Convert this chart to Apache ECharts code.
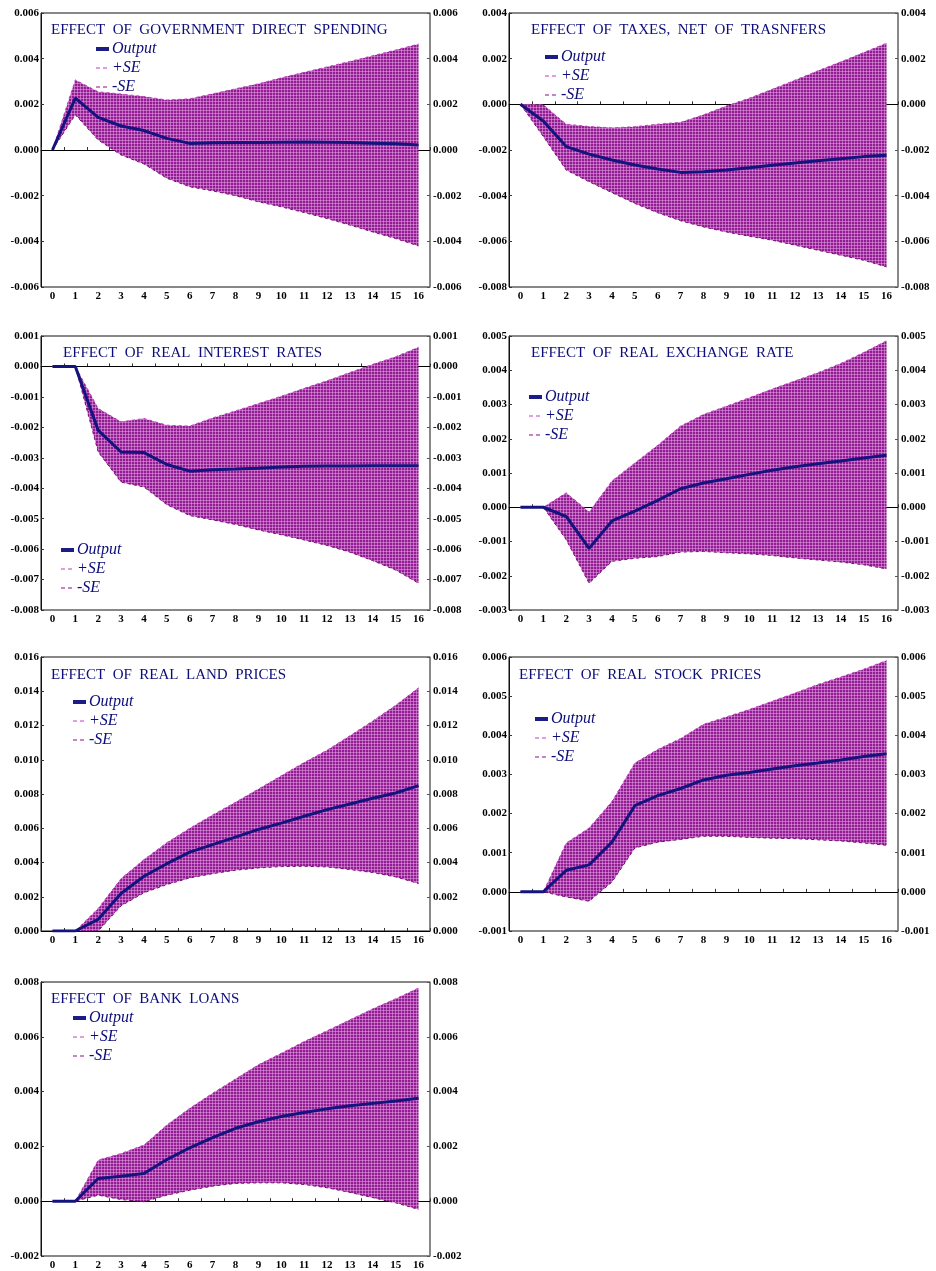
<!DOCTYPE html>
<html><head><meta charset="utf-8">
<script src="https://cdn.jsdelivr.net/npm/echarts@6/dist/echarts.min.js"></script>
<style>html,body{margin:0;padding:0;background:#fff}#c{width:936px;height:1271px}</style>
</head><body><div id="c"></div>
<script>
const periods = ['0','1','2','3','4','5','6','7','8','9','10','11','12','13','14','15','16'];

const titles = [
  'EFFECT  OF  GOVERNMENT  DIRECT  SPENDING',
  'EFFECT  OF  TAXES,  NET  OF  TRASNFERS',
  'EFFECT  OF  REAL  INTEREST  RATES',
  'EFFECT  OF  REAL  EXCHANGE  RATE',
  'EFFECT  OF  REAL  LAND  PRICES',
  'EFFECT  OF  REAL  STOCK  PRICES',
  'EFFECT  OF  BANK  LOANS'
];

// Government direct spending
const gdsOutput = [0, 0.00227, 0.00143, 0.00105, 0.00085, 0.00051, 0.00029, 0.00032, 0.00033, 0.00033, 0.00034, 0.00035, 0.00034, 0.00033, 0.00030, 0.00027, 0.00022];
const gdsUpper  = [0, 0.00307, 0.00255, 0.00245, 0.00234, 0.00219, 0.00224, 0.00246, 0.00268, 0.00290, 0.00316, 0.00340, 0.00364, 0.00388, 0.00413, 0.00438, 0.00464];
const gdsLower  = [0, 0.00154, 0.00044, -0.00022, -0.00061, -0.00124, -0.00161, -0.00179, -0.00200, -0.00227, -0.00249, -0.00274, -0.00300, -0.00329, -0.00359, -0.00388, -0.00420];
const gdsTicks  = [-0.006, -0.004, -0.002, 0.000, 0.002, 0.004, 0.006];

// Taxes, net of transfers
const taxOutput = [0, -0.00073, -0.00185, -0.00218, -0.00244, -0.00266, -0.00283, -0.00298, -0.00295, -0.00288, -0.00278, -0.00267, -0.00257, -0.00247, -0.00238, -0.00229, -0.00223];
const taxUpper  = [0, -0.00002, -0.00087, -0.00097, -0.00103, -0.00098, -0.00087, -0.00079, -0.00046, -0.00007, 0.00027, 0.00066, 0.00106, 0.00147, 0.00186, 0.00227, 0.00268];
const taxLower  = [0, -0.00141, -0.00288, -0.00339, -0.00387, -0.00434, -0.00475, -0.00510, -0.00537, -0.00559, -0.00578, -0.00595, -0.00617, -0.00639, -0.00661, -0.00683, -0.00712];
const taxTicks  = [-0.008, -0.006, -0.004, -0.002, 0.000, 0.002, 0.004];

// Real interest rates
const irOutput = [0, 0, -0.00210, -0.00281, -0.00283, -0.00322, -0.00344, -0.00339, -0.00337, -0.00334, -0.00330, -0.00328, -0.00327, -0.00327, -0.00326, -0.00326, -0.00326];
const irUpper  = [0, 0, -0.00138, -0.00182, -0.00171, -0.00193, -0.00196, -0.00169, -0.00146, -0.00122, -0.00098, -0.00072, -0.00047, -0.00020, 0.00007, 0.00032, 0.00063];
const irLower  = [0, 0, -0.00281, -0.00380, -0.00396, -0.00454, -0.00490, -0.00504, -0.00519, -0.00537, -0.00553, -0.00570, -0.00588, -0.00610, -0.00638, -0.00669, -0.00712];
const irTicks  = [-0.008, -0.007, -0.006, -0.005, -0.004, -0.003, -0.002, -0.001, 0.000, 0.001];

// Real exchange rate
const fxOutput = [0, 0, -0.00027, -0.00120, -0.00040, -0.00011, 0.00020, 0.00054, 0.00071, 0.00083, 0.00096, 0.00108, 0.00118, 0.00127, 0.00135, 0.00144, 0.00152];
const fxUpper  = [0, 0, 0.00042, -0.00014, 0.00077, 0.00129, 0.00181, 0.00237, 0.00271, 0.00295, 0.00320, 0.00345, 0.00369, 0.00393, 0.00420, 0.00452, 0.00486];
const fxLower  = [0, 0, -0.00095, -0.00222, -0.00158, -0.00149, -0.00144, -0.00131, -0.00129, -0.00133, -0.00136, -0.00141, -0.00148, -0.00154, -0.00160, -0.00168, -0.00180];
const fxTicks  = [-0.003, -0.002, -0.001, 0.000, 0.001, 0.002, 0.003, 0.004, 0.005];

// Real land prices
const landOutput = [0, 0, 0.00068, 0.00219, 0.00320, 0.00393, 0.00461, 0.00504, 0.00548, 0.00593, 0.00630, 0.00670, 0.00709, 0.00742, 0.00775, 0.00806, 0.00849];
const landUpper  = [0, 0, 0.00132, 0.00306, 0.00417, 0.00516, 0.00600, 0.00678, 0.00752, 0.00829, 0.00907, 0.00984, 0.01056, 0.01140, 0.01227, 0.01318, 0.01420];
const landLower  = [0, 0, 0, 0.00147, 0.00223, 0.00271, 0.00310, 0.00335, 0.00355, 0.00368, 0.00376, 0.00378, 0.00374, 0.00359, 0.00341, 0.00316, 0.00277];
const landTicks  = [0.000, 0.002, 0.004, 0.006, 0.008, 0.010, 0.012, 0.014, 0.016];

// Real stock prices
const stockOutput = [0, 0, 0.00055, 0.00069, 0.00127, 0.00220, 0.00246, 0.00264, 0.00286, 0.00298, 0.00305, 0.00314, 0.00322, 0.00329, 0.00337, 0.00346, 0.00353];
const stockUpper  = [0, 0, 0.00125, 0.00163, 0.00231, 0.00329, 0.00364, 0.00392, 0.00428, 0.00447, 0.00466, 0.00487, 0.00508, 0.00530, 0.00549, 0.00569, 0.00591];
const stockLower  = [0, 0, -0.00013, -0.00024, 0.00025, 0.00112, 0.00127, 0.00134, 0.00142, 0.00142, 0.00139, 0.00137, 0.00136, 0.00133, 0.00130, 0.00125, 0.00119];
const stockTicks  = [-0.001, 0.000, 0.001, 0.002, 0.003, 0.004, 0.005, 0.006];

// Bank loans
const loanOutput = [0, 0, 0.00083, 0.00091, 0.00101, 0.00152, 0.00195, 0.00232, 0.00266, 0.00290, 0.00309, 0.00324, 0.00337, 0.00348, 0.00357, 0.00366, 0.00376];
const loanUpper  = [0, 0, 0.00150, 0.00174, 0.00205, 0.00278, 0.00339, 0.00394, 0.00446, 0.00498, 0.00540, 0.00583, 0.00622, 0.00662, 0.00702, 0.00739, 0.00778];
const loanLower  = [0, 0, 0.00022, 0.00006, -0.00002, 0.00022, 0.00040, 0.00055, 0.00065, 0.00067, 0.00067, 0.00061, 0.00049, 0.00032, 0.00013, -0.00006, -0.00030];
const loanTicks  = [-0.002, 0.000, 0.002, 0.004, 0.006, 0.008];

const legendNames = ['Output', '+SE', '-SE'];

const panels = [
  {title: titles[0], out: gdsOutput, up: gdsUpper, lo: gdsLower, ticks: gdsTicks},
  {title: titles[1], out: taxOutput, up: taxUpper, lo: taxLower, ticks: taxTicks},
  {title: titles[2], out: irOutput, up: irUpper, lo: irLower, ticks: irTicks},
  {title: titles[3], out: fxOutput, up: fxUpper, lo: fxLower, ticks: fxTicks},
  {title: titles[4], out: landOutput, up: landUpper, lo: landLower, ticks: landTicks},
  {title: titles[5], out: stockOutput, up: stockUpper, lo: stockLower, ticks: stockTicks},
  {title: titles[6], out: loanOutput, up: loanUpper, lo: loanLower, ticks: loanTicks}
];

// layout (pixels)
const colLeft = [41, 509];
const rowTop = [13, 336, 657, 982];
const plotW = 389, plotH = 274;
const titlePos = [[51,23],[531,23],[63,346],[531,346],[51,668],[519,668],[51,992]];
const legendPos = [[94,41],[543,49],[59,542],[527,389],[71,694],[533,711],[71,1010]];

// hatched fill pattern
const pat = document.createElement('canvas');
pat.width = 3; pat.height = 3;
const pc = pat.getContext('2d');
pc.fillStyle = '#921c92'; pc.fillRect(0,0,3,3);
pc.fillStyle = 'rgba(225,160,225,0.55)';
pc.fillRect(2,0,1,3); pc.fillRect(0,2,3,1);

const labelFont = {fontFamily: 'Liberation Serif', fontWeight: 'bold', fontSize: 11, color: '#000'};
const fmt = v => v.toFixed(3);

const option = {
  animation: false,
  backgroundColor: '#fff',
  title: [], legend: [], grid: [], xAxis: [], yAxis: [], series: []
};

panels.forEach((p, k) => {
  const col = k % 2, row = Math.floor(k / 2);
  const ymin = p.ticks[0], ymax = p.ticks[p.ticks.length-1];
  const step = +(p.ticks[1] - p.ticks[0]).toFixed(4);
  option.grid.push({left: colLeft[col], top: rowTop[row], width: plotW, height: plotH,
    show: true, borderColor: '#111', borderWidth: 1, backgroundColor: 'transparent'});
  option.title.push({text: p.title, left: titlePos[k][0], top: titlePos[k][1], padding: 0,
    textStyle: {fontFamily: 'Liberation Serif', fontWeight: 'normal', fontSize: 15, color: '#0c0c7a'}});
  option.legend.push({data: [
      {name: legendNames[0], itemStyle: {opacity: 0}, lineStyle: {width: 4, color: '#1c1c86', type: 'solid'}},
      {name: legendNames[1], itemStyle: {opacity: 0}, lineStyle: {width: 1.2, color: '#c33cc3', type: [4,3]}},
      {name: legendNames[2], itemStyle: {opacity: 0}, lineStyle: {width: 1.2, color: '#8a108a', type: [4,3]}}
    ], orient: 'vertical', left: legendPos[k][0], top: legendPos[k][1], padding: 0,
    itemWidth: 13, itemHeight: 10, itemGap: 3, selectedMode: false,
    textStyle: {fontFamily: 'Liberation Serif', fontStyle: 'italic', fontSize: 16, color: '#0c0c7a', lineHeight: 15, padding: [0,0,0,-2]}});
  option.xAxis.push({type: 'category', gridIndex: k, data: periods, boundaryGap: true,
    axisLine: {show: true, lineStyle: {color: '#333', width: 1}},
    axisTick: {show: true, inside: true, length: 3, lineStyle: {color: '#333'}},
    axisLabel: Object.assign({interval: 0, margin: 4}, labelFont),
    splitLine: {show: false}});
  option.yAxis.push({type: 'value', gridIndex: k, position: 'left', min: ymin, max: ymax, interval: step,
    axisLine: {show: true, lineStyle: {color: '#111'}},
    axisTick: {show: true, inside: true, length: 3, lineStyle: {color: '#333'}},
    axisLabel: Object.assign({formatter: fmt, margin: 2, showMinLabel: true, showMaxLabel: true}, labelFont),
    splitLine: {show: false}});
  option.yAxis.push({type: 'value', gridIndex: k, position: 'right', min: ymin, max: ymax, interval: step,
    axisLine: {show: true, lineStyle: {color: '#888', width: 1.5}},
    axisTick: {show: true, inside: true, length: 3, lineStyle: {color: '#555'}},
    axisLabel: Object.assign({formatter: fmt, margin: 3, showMinLabel: true, showMaxLabel: true}, labelFont),
    splitLine: {show: false}});
  const yi = 2*k;
  const stk = 'band' + k;
  // lower bound (stack base), carries the zero reference line
  option.series.push({name: legendNames[2], type: 'line', xAxisIndex: k, yAxisIndex: yi, data: p.lo,
    stack: stk, stackStrategy: 'all', symbol: 'none', z: 2,
    lineStyle: {color: '#7a0a7a', width: 1, type: [3,3]}, itemStyle: {color: '#8a108a'},
    markLine: {silent: true, symbol: 'none', label: {show: false}, z: 1,
      lineStyle: {color: '#000', width: 1, type: 'solid', opacity: 1}, data: [{yAxis: 0}]}});
  // upper bound as difference, filled band
  option.series.push({name: legendNames[1], type: 'line', xAxisIndex: k, yAxisIndex: yi,
    data: p.up.map((v, i) => v - p.lo[i]),
    stack: stk, stackStrategy: 'all', symbol: 'none', z: 2,
    lineStyle: {color: '#c040c0', width: 1, type: [3,3]}, itemStyle: {color: '#c33cc3'},
    areaStyle: {color: {image: pat, repeat: 'repeat'}, opacity: 1}});
  option.series.push({name: legendNames[0], type: 'line', xAxisIndex: k, yAxisIndex: yi, data: p.out,
    symbol: 'none', z: 3, lineStyle: {color: '#14147e', width: 3}, itemStyle: {color: '#14147e'}});
});

const chart = echarts.init(document.getElementById('c'), null, {renderer: 'canvas'});
chart.setOption(option);
</script>
</body></html>
